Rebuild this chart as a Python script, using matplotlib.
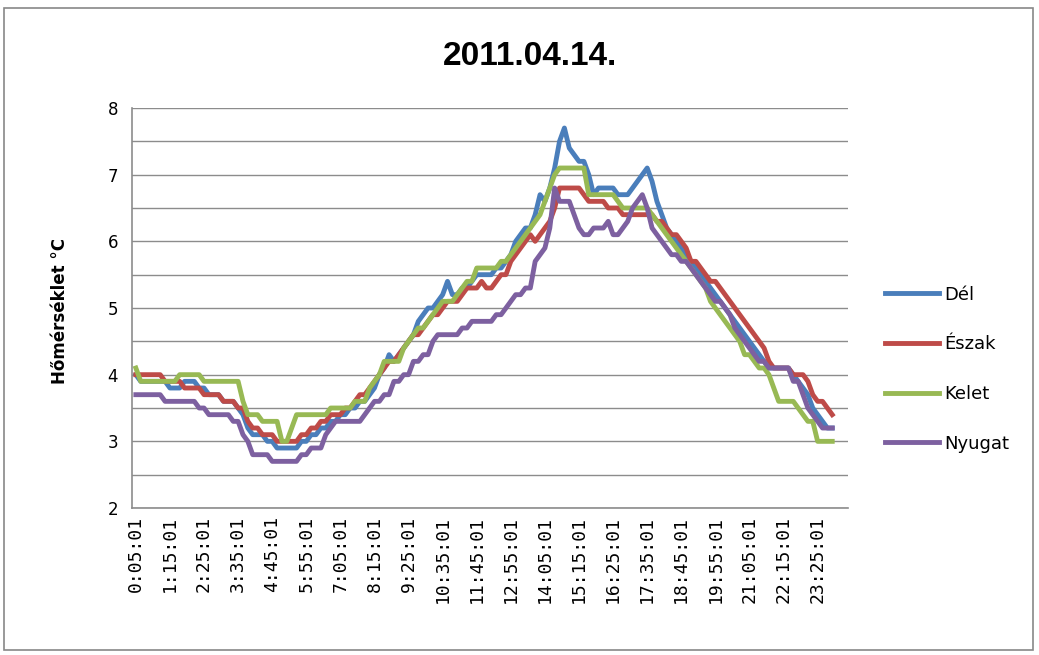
import matplotlib
matplotlib.use("Agg")
import matplotlib.pyplot as plt
from matplotlib.patches import Rectangle

title = "2011.04.14."
y_label = "Hőmérséklet °C"
series_names = ["Dél", "Észak", "Kelet", "Nyugat"]
colors = ["#4A7EBB", "#BE4B48", "#98B954", "#7D60A0"]

# x axis labels, one every 7 readings (readings every 10 minutes)
tick_labels = ["0:05:01", "1:15:01", "2:25:01", "3:35:01", "4:45:01", "5:55:01",
               "7:05:01", "8:15:01", "9:25:01", "10:35:01", "11:45:01", "12:55:01",
               "14:05:01", "15:15:01", "16:25:01", "17:35:01", "18:45:01",
               "19:55:01", "21:05:01", "22:15:01", "23:25:01"]

del_temp = [
    4.0, 3.9, 3.9, 3.9, 3.9, 3.9, 3.9, 3.8, 3.8, 3.8,
    3.9, 3.9, 3.9, 3.8, 3.8, 3.7, 3.7, 3.7, 3.6, 3.6,
    3.6, 3.5, 3.4, 3.2, 3.1, 3.1, 3.1, 3.0, 3.0, 2.9,
    2.9, 2.9, 2.9, 2.9, 3.0, 3.0, 3.1, 3.1, 3.2, 3.2,
    3.3, 3.3, 3.4, 3.4, 3.5, 3.5, 3.6, 3.6, 3.7, 3.8,
    4.0, 4.1, 4.3, 4.2, 4.3, 4.4, 4.5, 4.6, 4.8, 4.9,
    5.0, 5.0, 5.1, 5.2, 5.4, 5.2, 5.2, 5.3, 5.3, 5.4,
    5.5, 5.5, 5.5, 5.5, 5.6, 5.6, 5.7, 5.8, 6.0, 6.1,
    6.2, 6.2, 6.4, 6.7, 6.6, 6.8, 7.1, 7.5, 7.7, 7.4,
    7.3, 7.2, 7.2, 7.0, 6.7, 6.8, 6.8, 6.8, 6.8, 6.7,
    6.7, 6.7, 6.8, 6.9, 7.0, 7.1, 6.9, 6.6, 6.4, 6.2,
    6.1, 6.0, 5.9, 5.8, 5.7, 5.6, 5.5, 5.4, 5.3, 5.2,
    5.1, 5.0, 4.9, 4.8, 4.7, 4.6, 4.5, 4.4, 4.3, 4.2,
    4.1, 4.1, 4.1, 4.1, 4.1, 4.0, 3.9, 3.8, 3.7, 3.5,
    3.4, 3.3, 3.2, 3.2]

eszak_temp = [
    4.0, 4.0, 4.0, 4.0, 4.0, 4.0, 3.9, 3.9, 3.9, 3.9,
    3.8, 3.8, 3.8, 3.8, 3.7, 3.7, 3.7, 3.7, 3.6, 3.6,
    3.6, 3.5, 3.5, 3.3, 3.2, 3.2, 3.1, 3.1, 3.1, 3.0,
    3.0, 3.0, 3.0, 3.0, 3.1, 3.1, 3.2, 3.2, 3.3, 3.3,
    3.4, 3.4, 3.4, 3.5, 3.5, 3.6, 3.7, 3.7, 3.8, 3.9,
    4.0, 4.1, 4.2, 4.2, 4.3, 4.4, 4.5, 4.6, 4.6, 4.7,
    4.8, 4.9, 4.9, 5.0, 5.1, 5.1, 5.1, 5.2, 5.3, 5.3,
    5.3, 5.4, 5.3, 5.3, 5.4, 5.5, 5.5, 5.7, 5.8, 5.9,
    6.0, 6.1, 6.0, 6.1, 6.2, 6.3, 6.5, 6.8, 6.8, 6.8,
    6.8, 6.8, 6.7, 6.6, 6.6, 6.6, 6.6, 6.5, 6.5, 6.5,
    6.4, 6.4, 6.4, 6.4, 6.4, 6.4, 6.4, 6.3, 6.3, 6.2,
    6.1, 6.1, 6.0, 5.9, 5.7, 5.7, 5.6, 5.5, 5.4, 5.4,
    5.3, 5.2, 5.1, 5.0, 4.9, 4.8, 4.7, 4.6, 4.5, 4.4,
    4.2, 4.1, 4.1, 4.1, 4.1, 4.0, 4.0, 4.0, 3.9, 3.7,
    3.6, 3.6, 3.5, 3.4]

kelet_temp = [
    4.1, 3.9, 3.9, 3.9, 3.9, 3.9, 3.9, 3.9, 3.9, 4.0,
    4.0, 4.0, 4.0, 4.0, 3.9, 3.9, 3.9, 3.9, 3.9, 3.9,
    3.9, 3.9, 3.6, 3.4, 3.4, 3.4, 3.3, 3.3, 3.3, 3.3,
    3.0, 3.0, 3.2, 3.4, 3.4, 3.4, 3.4, 3.4, 3.4, 3.4,
    3.5, 3.5, 3.5, 3.5, 3.5, 3.6, 3.6, 3.6, 3.8, 3.9,
    4.0, 4.2, 4.2, 4.2, 4.2, 4.4, 4.5, 4.6, 4.7, 4.7,
    4.8, 4.9, 5.0, 5.1, 5.1, 5.1, 5.2, 5.3, 5.4, 5.4,
    5.6, 5.6, 5.6, 5.6, 5.6, 5.7, 5.7, 5.8, 5.9, 6.0,
    6.1, 6.2, 6.3, 6.4, 6.6, 6.8, 7.0, 7.1, 7.1, 7.1,
    7.1, 7.1, 7.1, 6.7, 6.7, 6.7, 6.7, 6.7, 6.7, 6.6,
    6.5, 6.5, 6.5, 6.5, 6.5, 6.5, 6.4, 6.3, 6.2, 6.1,
    6.0, 5.9, 5.8, 5.7, 5.6, 5.5, 5.4, 5.3, 5.1, 5.0,
    4.9, 4.8, 4.7, 4.6, 4.5, 4.3, 4.3, 4.2, 4.1, 4.1,
    4.0, 3.8, 3.6, 3.6, 3.6, 3.6, 3.5, 3.4, 3.3, 3.3,
    3.0, 3.0, 3.0, 3.0]

nyugat_temp = [
    3.7, 3.7, 3.7, 3.7, 3.7, 3.7, 3.6, 3.6, 3.6, 3.6,
    3.6, 3.6, 3.6, 3.5, 3.5, 3.4, 3.4, 3.4, 3.4, 3.4,
    3.3, 3.3, 3.1, 3.0, 2.8, 2.8, 2.8, 2.8, 2.7, 2.7,
    2.7, 2.7, 2.7, 2.7, 2.8, 2.8, 2.9, 2.9, 2.9, 3.1,
    3.2, 3.3, 3.3, 3.3, 3.3, 3.3, 3.3, 3.4, 3.5, 3.6,
    3.6, 3.7, 3.7, 3.9, 3.9, 4.0, 4.0, 4.2, 4.2, 4.3,
    4.3, 4.5, 4.6, 4.6, 4.6, 4.6, 4.6, 4.7, 4.7, 4.8,
    4.8, 4.8, 4.8, 4.8, 4.9, 4.9, 5.0, 5.1, 5.2, 5.2,
    5.3, 5.3, 5.7, 5.8, 5.9, 6.2, 6.8, 6.6, 6.6, 6.6,
    6.4, 6.2, 6.1, 6.1, 6.2, 6.2, 6.2, 6.3, 6.1, 6.1,
    6.2, 6.3, 6.5, 6.6, 6.7, 6.5, 6.2, 6.1, 6.0, 5.9,
    5.8, 5.8, 5.7, 5.7, 5.6, 5.5, 5.4, 5.3, 5.2, 5.1,
    5.1, 5.0, 4.9, 4.7, 4.6, 4.5, 4.4, 4.3, 4.2, 4.2,
    4.1, 4.1, 4.1, 4.1, 4.1, 3.9, 3.9, 3.7, 3.5, 3.4,
    3.3, 3.2, 3.2, 3.2]


def main():
    all_series = [del_temp, eszak_temp, kelet_temp, nyugat_temp]

    fig = plt.figure(figsize=(10.39, 6.55), dpi=100)
    # outer chart border
    fig.patches.append(Rectangle((0.004, 0.008), 0.99, 0.98, transform=fig.transFigure,
                                 fill=False, edgecolor="#888888", linewidth=1.2))
    ax = fig.add_axes([0.127, 0.2244, 0.689, 0.6107])

    x = list(range(len(del_temp)))
    for name, vals, c in zip(series_names, all_series, colors):
        ax.plot(x, vals, color=c, linewidth=3.5, label=name, solid_joinstyle="round")

    ax.set_ylim(2, 8)
    ax.set_yticks([2, 3, 4, 5, 6, 7, 8])
    ax.set_yticks([2.5, 3.5, 4.5, 5.5, 6.5, 7.5], minor=True)
    ax.grid(True, which="both", axis="y", color="#8c8c8c", linewidth=1.0)
    ax.set_axisbelow(True)
    ax.tick_params(axis="y", which="both", length=0, pad=10, labelsize=12)

    ax.set_xlim(-0.8, 146.2)
    ax.set_xticks(range(0, len(tick_labels) * 7, 7))
    ax.set_xticklabels(tick_labels, rotation=90, family="DejaVu Sans Mono", fontsize=13)
    ax.tick_params(axis="x", length=0, pad=6)

    for side in ["top", "right"]:
        ax.spines[side].set_visible(False)
    for side in ["left", "bottom"]:
        ax.spines[side].set_color("#8c8c8c")
        ax.spines[side].set_linewidth(1.2)

    fig.text(0.51, 0.913, title, ha="center", va="center", fontsize=24,
             fontweight="bold", family="Liberation Sans")
    fig.text(0.058, 0.525, y_label, ha="center", va="center", rotation=90,
             fontsize=12, fontweight="bold")

    ax.legend(loc="center left", bbox_to_anchor=(1.029, 0.347), frameon=False,
              fontsize=13, handlelength=3.0, handletextpad=0.3, labelspacing=1.75)

    fig.savefig("out.png", dpi=100)


if __name__ == '__main__':
    main()
